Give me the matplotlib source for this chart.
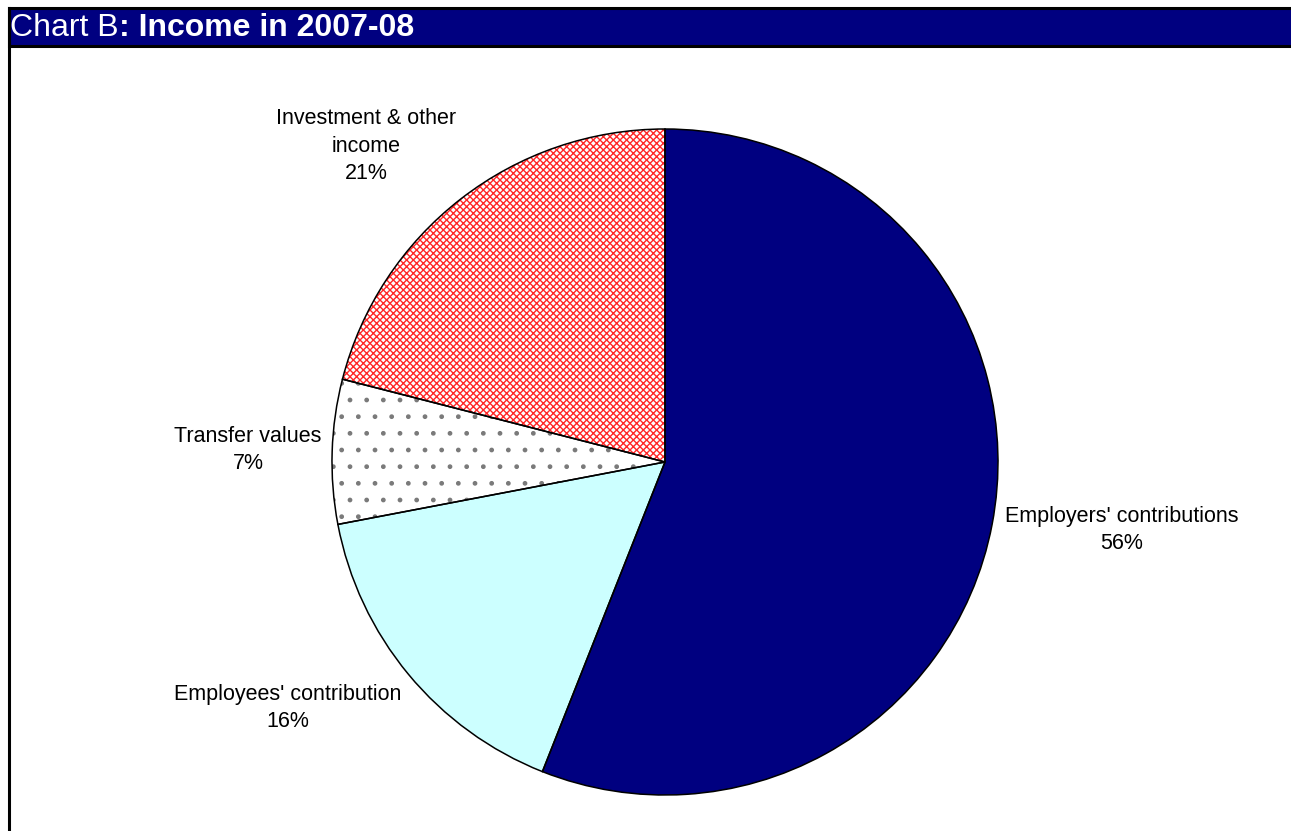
import matplotlib
matplotlib.use("Agg")
import matplotlib.pyplot as plt
from matplotlib.patches import Rectangle

# Income sources, 2007-08 (% of total), clockwise from 12 o'clock
labels = ["Employers' contributions", "Employees' contribution", "Transfer values", "Investment & other\nincome"]
shares = [56, 16, 7, 21]

face_colors = ["#000080", "#CCFFFF", "white", "white"]
hatches = [None, None, ".", "xxxxx"]
hatch_colors = [None, None, "#7a7a7a", "#FF2828"]

# label anchor points (pixel space, y measured from the top)
label_xy = [(1122, 530), (288, 708), (248, 450), (366, 146)]

W, H = 1291, 831
plt.rcParams["font.family"] = ["Liberation Sans", "DejaVu Sans"]
plt.rcParams["hatch.linewidth"] = 1.0

fig = plt.figure(figsize=(W / 100, H / 100), dpi=100)
ax = fig.add_axes([0, 0, 1, 1])
ax.set_xlim(0, W)
ax.set_ylim(0, H)
ax.set_aspect("equal")
ax.axis("off")

center = (665, H - 462)
radius = 333

# filled / hatched wedges
wedges, _ = ax.pie(shares, colors=face_colors, startangle=90, counterclock=False,
                   center=center, radius=radius, frame=True,
                   wedgeprops=dict(linewidth=0))
for w, h, hc in zip(wedges, hatches, hatch_colors):
    if h:
        w.set_hatch(h)
        w.set_edgecolor(hc)
        w.set_linewidth(0)

# outlines on top
ax.pie(shares, colors=["none"] * 4, startangle=90, counterclock=False,
       center=center, radius=radius, frame=True,
       wedgeprops=dict(linewidth=1.1, edgecolor="black", fill=False))
ax.set_xlim(0, W)
ax.set_ylim(0, H)
ax.axis("off")

for lab, v, (x, y) in zip(labels, shares, label_xy):
    ax.text(x, H - y, f"{lab}\n{v}%", ha="center", va="center",
            fontsize=15.5, linespacing=1.42, color="black")

# title bar and frame
ax.add_patch(Rectangle((8.5, H - 46), W, 38, facecolor="#000080",
                       edgecolor="black", linewidth=2.2, zorder=5, clip_on=False))
ax.plot([8.5, 8.5], [0, H - 8], color="black", linewidth=2.2, zorder=6)

t1 = ax.text(10, H - 28.5, "Chart B", color="white", fontsize=23,
             va="center", ha="left", zorder=7)
fig.canvas.draw()
bb = t1.get_window_extent()
x_next = ax.transData.inverted().transform((bb.x1, bb.y0))[0]
ax.text(x_next, H - 28.5, ": Income in 2007-08", color="white", fontsize=23,
        fontweight="bold", va="center", ha="left", zorder=7)

fig.savefig("out.png", dpi=100)
